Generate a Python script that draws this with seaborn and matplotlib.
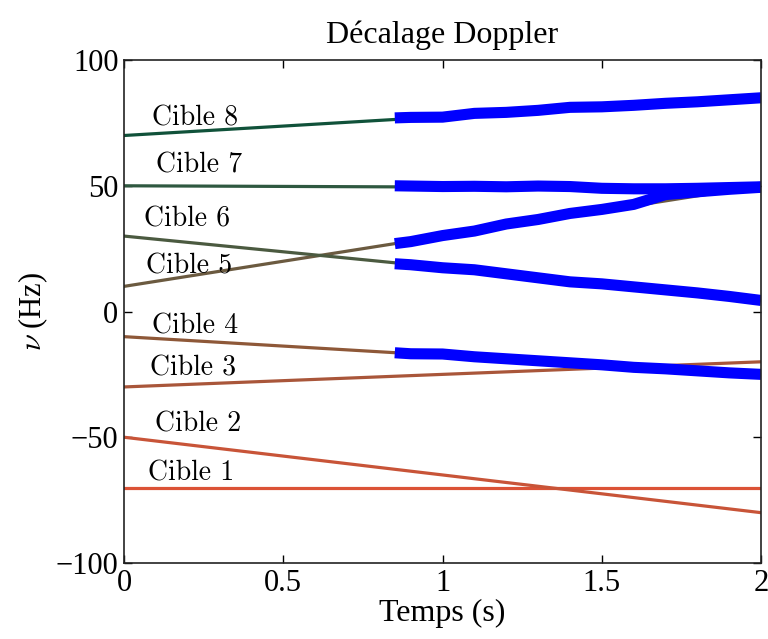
import numpy as np
import pandas as pd
import matplotlib
matplotlib.use("Agg")
import matplotlib.pyplot as plt
import seaborn as sns

# ---- data ----
targets = ["Cible 1", "Cible 2", "Cible 3", "Cible 4", "Cible 5", "Cible 6", "Cible 7", "Cible 8"]
t_true = [0.0, 2.0]
v_start = [-70, -50, -30, -10, 10, 30, 50, 70]
v_end = [-70, -80, -20, -25, 50, 5, 49, 85]
colors = ["#DB5236", "#C85438", "#A9563A", "#8E5838", "#6B5A40", "#4B5A40", "#2F5840", "#10523A"]

blue_t = [0.85, 0.9, 1.0, 1.1, 1.2, 1.3, 1.4, 1.5, 1.6, 1.7, 1.8, 1.9, 2.0]
est4 = [-16.4, -16.8, -16.9, -18.0, -18.8, -19.6, -20.4, -21.2, -22.2, -22.8, -23.6, -24.4, -25.0]
est5 = [27.0, 27.8, 30.2, 32.0, 34.8, 36.6, 39.0, 40.6, 42.6, 46.5, 47.6, 48.6, 49.4]
est6 = [19.0, 18.6, 17.4, 16.6, 15.0, 13.4, 11.8, 11.0, 9.8, 8.6, 7.4, 6.0, 4.4]
est7 = [50.0, 49.9, 49.7, 49.8, 49.6, 49.9, 49.7, 49.0, 48.8, 48.8, 49.0, 49.3, 49.6]
est8 = [77.0, 77.2, 77.3, 78.8, 79.2, 80.0, 81.2, 81.4, 82.0, 82.8, 83.4, 84.2, 85.0]

label_x = [0.075, 0.097, 0.082, 0.088, 0.069, 0.063, 0.100, 0.088]
label_y = [-64.2, -44.7, -22.5, -5.8, 18.1, 36.8, 58.3, 76.9]

xticks = [0, 0.5, 1, 1.5, 2]
xticklabels = ["0", "0.5", "1", "1.5", "2"]
yticks = [-100, -50, 0, 50, 100]
yticklabels = ["\u2212100", "\u221250", "0", "50", "100"]

# ---- style ----
sns.set_style("ticks")
plt.rcParams["font.family"] = ["Liberation Serif", "DejaVu Serif"]
plt.rcParams["mathtext.fontset"] = "cm"
for k in ["text.color", "axes.labelcolor", "xtick.color", "ytick.color", "axes.edgecolor"]:
    plt.rcParams[k] = "black"

true_df = pd.DataFrame({
    "t": [tt for _ in targets for tt in t_true],
    "v": [v for s, e in zip(v_start, v_end) for v in (s, e)],
    "cible": [c for c in targets for _ in t_true],
})
est_list = [("Cible 4", est4), ("Cible 5", est5), ("Cible 6", est6), ("Cible 7", est7), ("Cible 8", est8)]
est_df = pd.DataFrame({
    "t": [tt for _, e in est_list for tt in blue_t],
    "v": [v for _, e in est_list for v in e],
    "cible": [n for n, e in est_list for _ in blue_t],
})

fig = plt.figure(figsize=(7.68, 6.39), dpi=100)
ax = fig.add_axes([0.1615, 0.119, 0.8295, 0.787])

sns.lineplot(data=true_df, x="t", y="v", hue="cible", palette=colors, linewidth=2.3,
             legend=False, ax=ax, estimator=None, sort=False)
sns.lineplot(data=est_df, x="t", y="v", units="cible", color="#0000FF", linewidth=8,
             legend=False, ax=ax, estimator=None, sort=False, solid_capstyle="butt")

for name, lx, ly in zip(targets, label_x, label_y):
    ax.text(lx, ly, name, fontsize=20, family="cmr10", va="center", ha="left", color="black")

ax.set_xlim(0, 2)
ax.set_ylim(-100, 100)
ax.set_xticks(xticks)
ax.set_xticklabels(xticklabels)
ax.set_yticks(yticks)
ax.set_yticklabels(yticklabels)
ax.tick_params(direction="in", length=6, width=1, top=True, right=True, labelsize=22, pad=4,
               colors="black")
for sp in ax.spines.values():
    sp.set_visible(True)
    sp.set_linewidth(1.2)
    sp.set_color("#222222")

ax.set_title("Décalage Doppler", fontsize=23, pad=12)
ax.set_xlabel("Temps (s)", fontsize=23, labelpad=1)
ax.set_ylabel(r"$\nu$ (Hz)", fontsize=22, labelpad=4)

fig.savefig("out.png", dpi=100)
